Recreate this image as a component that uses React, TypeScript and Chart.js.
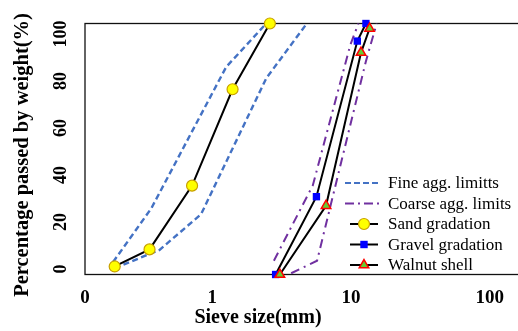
import React, { useEffect, useRef } from 'react';
import { Chart, registerables } from 'chart.js';
Chart.register(...registerables);

// ---- data ----
const FINE_UPPER_X = [0.193, 0.364, 1.26, 2.45];
const FINE_UPPER_Y = [5, 26.4, 82.7, 100];
const FINE_LOWER_X = [0.198, 0.417, 0.83, 2.45, 4.8];
const FINE_LOWER_Y = [2.5, 9.8, 24, 78.2, 100];
const COARSE_LEFT_X = [2.78, 5.3, 9.87, 11.3];
const COARSE_LEFT_Y = [5.5, 35.5, 91.4, 100];
const COARSE_RIGHT_X = [3.7, 5.69, 12.8, 15.3];
const COARSE_RIGHT_Y = [0.5, 5.5, 85, 100];
const SAND_X = [0.198, 0.353, 0.715, 1.4, 2.6];
const SAND_Y = [3.2, 10, 35.4, 73.8, 100];
const GRAVEL_X = [2.86, 5.63, 11.1, 12.8];
const GRAVEL_Y = [0, 31, 93, 100];
const WALNUT_X = [3.07, 6.6, 11.8, 13.6];
const WALNUT_Y = [0, 27.4, 88.4, 98];

const X_TICKS = [1, 10, 100];
const Y_TICKS = [0, 20, 40, 60, 80, 100];
const X_MIN = 0.121;
const X_MAX = 173.4;
const Y_LABEL_MIN = -2.3;
const Y_LABEL_MAX = 104.5;

const LEGEND_NAMES = ['Fine agg. limitts', 'Coarse agg. limits', 'Sand gradation', 'Gravel gradation', 'Walnut shell'];
const X_TITLE = 'Sieve size(mm)';
const Y_TITLE = 'Percentage passed by weight(%)';

const SERIF = '"Liberation Serif", "Times New Roman", serif';
const FINE_COLOR = '#4472C4';
const COARSE_COLOR = '#7030A0';

const pts = (xs: number[], ys: number[]) => xs.map((x, i) => ({ x, y: ys[i] }));

function drawMarker(ctx: CanvasRenderingContext2D, kind: string, x: number, y: number) {
  ctx.save();
  ctx.lineWidth = 1.2;
  if (kind === 'circle') {
    ctx.fillStyle = '#FFFF00';
    ctx.strokeStyle = '#C8A000';
    ctx.beginPath();
    ctx.arc(x, y, 5.5, 0, Math.PI * 2);
    ctx.fill();
    ctx.stroke();
  } else if (kind === 'rect') {
    ctx.fillStyle = '#0000FF';
    ctx.fillRect(x - 3.7, y - 3.7, 7.4, 7.4);
  } else {
    const r = 5.5;
    ctx.fillStyle = '#66CC33';
    ctx.strokeStyle = '#FF0000';
    ctx.lineWidth = 1.5;
    ctx.beginPath();
    ctx.moveTo(x, y - r);
    ctx.lineTo(x + r * 0.866, y + r * 0.5);
    ctx.lineTo(x - r * 0.866, y + r * 0.5);
    ctx.closePath();
    ctx.fill();
    ctx.stroke();
  }
  ctx.restore();
}

const framePlugin = {
  id: 'frame',
  beforeDatasetsDraw(chart: any) {
    const { ctx, chartArea: a } = chart;
    ctx.save();
    ctx.strokeStyle = '#111';
    ctx.lineWidth = 1.3;
    ctx.strokeRect(a.left, a.top, a.right - a.left, a.bottom - a.top);
    ctx.restore();
  },
  afterDraw(chart: any) {
    const ctx: CanvasRenderingContext2D = chart.ctx;
    const yl = chart.scales.yLabels;
    ctx.save();
    ctx.fillStyle = '#000';
    ctx.font = `bold 18px ${SERIF}`;
    ctx.textAlign = 'center';
    ctx.textBaseline = 'middle';
    yl.ticks.forEach((t: any) => {
      const py = yl.getPixelForValue(t.value);
      ctx.save();
      ctx.translate(61, py);
      ctx.rotate(-Math.PI / 2);
      ctx.fillText(String(t.value), 0, 0);
      ctx.restore();
    });
    ctx.font = `bold 20.5px ${SERIF}`;
    ctx.save();
    ctx.translate(23, 155);
    ctx.rotate(-Math.PI / 2);
    ctx.fillText(Y_TITLE, 0, 0);
    ctx.restore();
    ctx.font = `bold 20px ${SERIF}`;
    ctx.fillText(X_TITLE, 258, 318);

    // legend
    ctx.font = `17px ${SERIF}`;
    ctx.textAlign = 'left';
    const kinds = ['fine', 'coarse', 'circle', 'rect', 'triangle'];
    LEGEND_NAMES.forEach((name, i) => {
      const y = 183 + i * 20.5;
      const k = kinds[i];
      ctx.save();
      if (k === 'fine' || k === 'coarse') {
        ctx.strokeStyle = k === 'fine' ? FINE_COLOR : COARSE_COLOR;
        ctx.lineWidth = 2.2;
        ctx.setLineDash(k === 'fine' ? [6, 3] : [9, 4, 2, 4]);
        ctx.beginPath();
        ctx.moveTo(345, y);
        ctx.lineTo(379, y);
        ctx.stroke();
      } else {
        ctx.strokeStyle = '#000';
        ctx.lineWidth = 2;
        ctx.beginPath();
        ctx.moveTo(350, y);
        ctx.lineTo(378, y);
        ctx.stroke();
        drawMarker(ctx, k, 364, y);
      }
      ctx.restore();
      ctx.fillText(name, 388, y + 1);
    });
    ctx.restore();
  },
};

export default function App() {
  const ref = useRef<HTMLCanvasElement>(null);
  useEffect(() => {
    const canvas = ref.current!;
    const line = (data: any[], color: string, dash: number[], width: number) => ({
      data,
      borderColor: color,
      borderWidth: width,
      borderDash: dash,
      showLine: true,
      pointRadius: 0,
      fill: false,
      clip: false as any,
      tension: 0,
    });
    const datasets: any[] = [
      {
        data: pts(WALNUT_X, WALNUT_Y), showLine: true, borderColor: '#000', borderWidth: 2,
        pointStyle: 'triangle', pointRadius: 5.5, pointBackgroundColor: '#66CC33', pointBorderColor: '#FF0000',
        pointBorderWidth: 1.5, clip: false,
      },
      {
        data: pts(GRAVEL_X, GRAVEL_Y), showLine: true, borderColor: '#000', borderWidth: 2,
        pointStyle: 'rect', pointRadius: 5.2, pointBackgroundColor: '#0000FF', pointBorderColor: '#0000FF',
        pointBorderWidth: 0, clip: false,
      },
      {
        data: pts(SAND_X, SAND_Y), showLine: true, borderColor: '#000', borderWidth: 2,
        pointStyle: 'circle', pointRadius: 5.5, pointBackgroundColor: '#FFFF00', pointBorderColor: '#C8A000',
        pointBorderWidth: 1.2, clip: false,
      },
      line(pts(COARSE_LEFT_X, COARSE_LEFT_Y), COARSE_COLOR, [9, 5, 2, 5], 2),
      line(pts(COARSE_RIGHT_X, COARSE_RIGHT_Y), COARSE_COLOR, [9, 5, 2, 5], 2),
      line(pts(FINE_UPPER_X, FINE_UPPER_Y), FINE_COLOR, [6, 3.5], 2.4),
      line(pts(FINE_LOWER_X, FINE_LOWER_Y), FINE_COLOR, [6, 3.5], 2.4),
    ];
    const noGrid = { display: false, drawTicks: false };
    const chart = new Chart(canvas, {
      type: 'scatter',
      data: { datasets },
      options: {
        responsive: false,
        animation: false,
        devicePixelRatio: 1,
        layout: { padding: { top: 23.5, left: 0, right: 0, bottom: 0 } },
        plugins: { legend: { display: false }, tooltip: { enabled: false } },
        scales: {
          x: {
            type: 'logarithmic',
            min: X_MIN,
            max: X_MAX,
            grid: noGrid,
            border: { display: false },
            afterBuildTicks: (s: any) => {
              s.ticks = [X_MIN, ...X_TICKS].map((v) => ({ value: v }));
            },
            afterFit: (s: any) => {
              s.height = 56.5;
              s.paddingLeft = 0;
              s.paddingRight = 0;
            },
            ticks: {
              autoSkip: false,
              maxRotation: 0,
              minRotation: 0,
              padding: 12,
              color: '#000',
              font: { family: SERIF, size: 19, weight: 'bold' },
              callback: (v: any) => (Number(v) < 0.5 ? '0' : String(v)),
            },
          },
          y: {
            type: 'linear',
            position: 'left',
            min: 0,
            max: 100,
            grid: noGrid,
            border: { display: false },
            ticks: { display: false },
            afterFit: (s: any) => {
              s.width = 85;
              s.paddingTop = 0;
              s.paddingBottom = 0;
            },
          },
          yLabels: {
            type: 'linear',
            position: 'left',
            min: Y_LABEL_MIN,
            max: Y_LABEL_MAX,
            grid: noGrid,
            border: { display: false },
            ticks: { display: false },
            afterBuildTicks: (s: any) => {
              s.ticks = Y_TICKS.map((v) => ({ value: v }));
            },
            afterFit: (s: any) => {
              s.width = 0;
              s.paddingTop = 0;
              s.paddingBottom = 0;
            },
          },
        },
      } as any,
      plugins: [framePlugin],
    });
    return () => chart.destroy();
  }, []);
  return (
    <div style={{ position: 'absolute', left: 0, top: 0, width: 518, height: 331, overflow: 'hidden', background: '#fff' }}>
      <canvas ref={ref} width={530} height={331} style={{ display: 'block', width: 530, height: 331 }} />
    </div>
  );
}
